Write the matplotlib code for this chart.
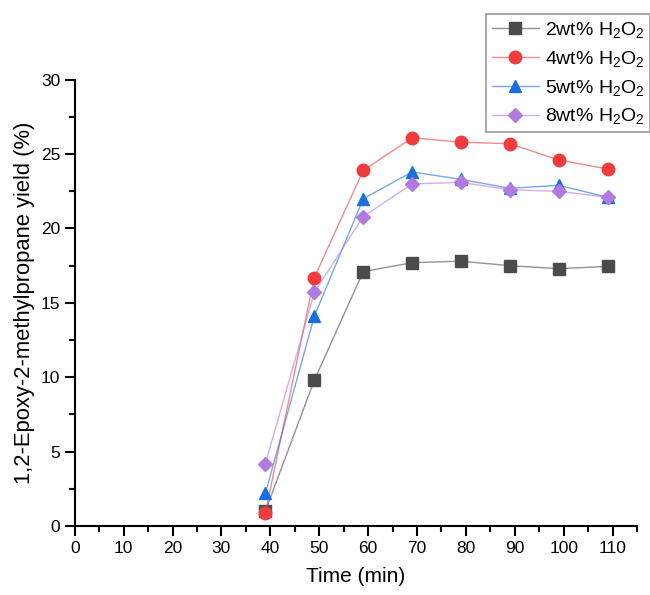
import matplotlib
matplotlib.use("Agg")
import matplotlib.pyplot as plt
from matplotlib.ticker import MultipleLocator
from matplotlib.colors import to_rgba

plt.rcParams['font.family'] = ['Liberation Sans', 'DejaVu Sans']
plt.rcParams['mathtext.fontset'] = 'custom'
plt.rcParams['mathtext.rm'] = 'Liberation Sans'

# reaction time (min)
time = [39, 49, 59, 69, 79, 89, 99, 109]

# yield (%) for each H2O2 loading
y_2wt = [1.0, 9.8, 17.1, 17.7, 17.8, 17.5, 17.3, 17.45]
y_4wt = [0.9, 16.7, 23.9, 26.1, 25.8, 25.7, 24.6, 24.0]
y_5wt = [2.2, 14.1, 22.0, 23.8, 23.3, 22.7, 22.9, 22.1]
y_8wt = [4.2, 15.7, 20.8, 23.0, 23.1, 22.6, 22.5, 22.1]

labels = [r'2wt% $\mathregular{H_2O_2}$', r'4wt% $\mathregular{H_2O_2}$',
          r'5wt% $\mathregular{H_2O_2}$', r'8wt% $\mathregular{H_2O_2}$']
series = [y_2wt, y_4wt, y_5wt, y_8wt]
colors = ['#4b4b4b', '#f03c3c', '#1a6fdf', '#b07ae0']
markers = ['s', 'o', '^', 'D']
msizes = [8, 9, 9, 7.5]

fig = plt.figure(figsize=(6.5, 5.95), dpi=100)
ax = fig.add_axes([0.115, 0.116, 0.865, 0.75])

for ys, lab, c, m, ms in zip(series, labels, colors, markers, msizes):
    ax.plot(time, ys, color=to_rgba(c, 0.6), lw=1.0, marker=m, markersize=ms,
            markerfacecolor=c, markeredgecolor=c, label=lab)

ax.set_xlim(0, 115)
ax.set_ylim(0, 30)
ax.xaxis.set_major_locator(MultipleLocator(10))
ax.xaxis.set_minor_locator(MultipleLocator(5))
ax.yaxis.set_major_locator(MultipleLocator(5))
ax.yaxis.set_minor_locator(MultipleLocator(2.5))

for s in ['top', 'right']:
    ax.spines[s].set_visible(False)
for s in ['left', 'bottom']:
    ax.spines[s].set_linewidth(1.5)
ax.tick_params(which='major', direction='out', length=7, width=1.5, labelsize=12.5)
ax.tick_params(which='minor', direction='out', length=4, width=1.5)

ax.set_xlabel('Time (min)', fontsize=15, labelpad=8)
ax.set_ylabel('1,2-Epoxy-2-methylpropane yield (%)', fontsize=15.8, labelpad=4)

leg = fig.legend(loc='upper left', bbox_to_anchor=(0.748, 0.976), fontsize=14,
                 fancybox=False, edgecolor='#999999', framealpha=1,
                 handlelength=2.4, borderpad=0.3, labelspacing=0.45,
                 handletextpad=0.3, borderaxespad=0)
leg.get_frame().set_linewidth(1.2)

fig.savefig('out.png', dpi=100)
